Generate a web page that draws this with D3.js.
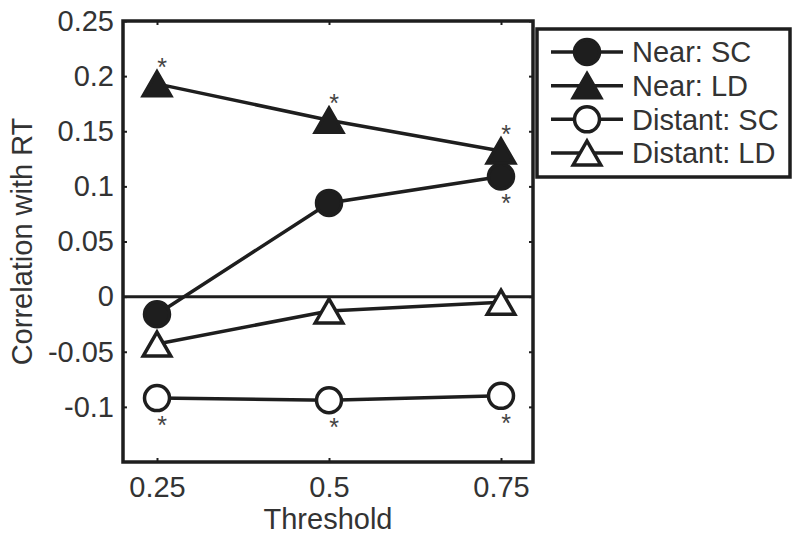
<!DOCTYPE html>
<html lang="en">
<head>
<meta charset="utf-8">
<title>Correlation with RT</title>
<script src="https://cdn.jsdelivr.net/npm/d3@7"></script>
<style>
  body { margin: 0; background: #fff; }
  text { font-family: "Liberation Sans", Arial, sans-serif; fill: #333; }
</style>
</head>
<body>
<script>
// values
var thresholds = [0.25, 0.5, 0.75];
var nearSC = [-0.016, 0.085, 0.109];
var nearLD = [0.193, 0.160, 0.132];
var distantSC = [-0.092, -0.094, -0.090];
var distantLD = [-0.043, -0.013, -0.005];
var yTicks = [-0.1, -0.05, 0, 0.05, 0.1, 0.15, 0.2, 0.25];
var xTicks = [0.25, 0.5, 0.75];
// significance stars (1 = star shown)
var starsNearSC = [0, 0, 1];
var starsNearLD = [1, 1, 1];
var starsDistantSC = [1, 1, 1];
var starsDistantLD = [0, 0, 0];

var series = [
  { name: "Near: SC", values: nearSC, shape: "circle", filled: true, stars: starsNearSC, side: 1 },
  { name: "Near: LD", values: nearLD, shape: "triangle", filled: true, stars: starsNearLD, side: -1 },
  { name: "Distant: SC", values: distantSC, shape: "circle", filled: false, stars: starsDistantSC, side: 1 },
  { name: "Distant: LD", values: distantLD, shape: "triangle", filled: false, stars: starsDistantLD, side: 1 }
];

var width = 800, height = 541;
var boxL = 123, boxR = 533, boxT = 21, boxB = 462;
var ink = "#1e1e1e";
var fs = 29;

var svg = d3.select("body").append("svg")
    .attr("width", width)
    .attr("height", height);

// ticks land at 157 / 329 / 501 in the picture
var x = d3.scaleLinear().domain([0.25, 0.75]).range([157, 501]);
var y = d3.scaleLinear().domain([-0.15, 0.25]).range([boxB, boxT]);

// triangle centred on its bounding box
var triangle = {
  draw: function(ctx, size) {
    var h = Math.sqrt(size), w = h * 1.15;
    ctx.moveTo(0, -h / 2);
    ctx.lineTo(w / 2, h / 2);
    ctx.lineTo(-w / 2, h / 2);
    ctx.closePath();
  }
};

function drawMarker(g, s, cx, cy) {
  if (s.shape === "circle") {
    g.append("circle")
      .attr("cx", cx).attr("cy", cy).attr("r", 12.5)
      .attr("fill", s.filled ? ink : "#fff")
      .attr("stroke", ink).attr("stroke-width", 3.5);
  } else {
    g.append("path")
      .attr("transform", "translate(" + cx + "," + cy + ")")
      .attr("d", d3.symbol().type(triangle).size(24 * 24)())
      .attr("fill", s.filled ? ink : "#fff")
      .attr("stroke", ink).attr("stroke-width", 3.5);
  }
}

// zero line
svg.append("line")
  .attr("x1", boxL).attr("x2", boxR)
  .attr("y1", y(0)).attr("y2", y(0))
  .attr("stroke", ink).attr("stroke-width", 3);

// axes with small inward ticks
var yAxis = d3.axisLeft(y).tickValues(yTicks).tickSizeInner(-4).tickSizeOuter(0).tickPadding(9)
  .tickFormat(function(d) { return String(+d.toFixed(2)); });
var gy = svg.append("g").attr("transform", "translate(" + boxL + ",0)").call(yAxis);
gy.select(".domain").remove();
gy.selectAll("line").attr("stroke", ink).attr("stroke-width", 2);
gy.selectAll("text").attr("font-size", fs).style("fill", "#333");

var gyr = svg.append("g").attr("transform", "translate(" + boxR + ",0)")
  .call(d3.axisRight(y).tickValues(yTicks).tickSizeInner(-4).tickSizeOuter(0).tickFormat(""));
gyr.select(".domain").remove();
gyr.selectAll("line").attr("stroke", ink).attr("stroke-width", 2);

var xAxis = d3.axisBottom(x).tickValues(xTicks).tickSizeInner(-4).tickSizeOuter(0).tickPadding(14)
  .tickFormat(function(d) { return String(d); });
var gx = svg.append("g").attr("transform", "translate(0," + boxB + ")").call(xAxis);
gx.select(".domain").remove();
gx.selectAll("line").attr("stroke", ink).attr("stroke-width", 2);
gx.selectAll("text").attr("font-size", fs).style("fill", "#333");

var gxt = svg.append("g").attr("transform", "translate(0," + boxT + ")")
  .call(d3.axisTop(x).tickValues(xTicks).tickSizeInner(-4).tickSizeOuter(0).tickFormat(""));
gxt.select(".domain").remove();
gxt.selectAll("line").attr("stroke", ink).attr("stroke-width", 2);

// box
svg.append("rect")
  .attr("x", boxL).attr("y", boxT)
  .attr("width", boxR - boxL).attr("height", boxB - boxT)
  .attr("fill", "none").attr("stroke", ink).attr("stroke-width", 3.5);

// axis labels
svg.append("text")
  .attr("x", 328).attr("y", 529)
  .attr("text-anchor", "middle").attr("font-size", fs)
  .text("Threshold");

svg.append("text")
  .attr("transform", "translate(32," + ((boxT + boxB) / 2) + ") rotate(-90)")
  .attr("text-anchor", "middle").attr("font-size", fs)
  .text("Correlation with RT");

// series
var line = d3.line()
  .x(function(d, i) { return x(thresholds[i]); })
  .y(function(d) { return y(d); });

series.forEach(function(s) {
  svg.append("path")
    .attr("d", line(s.values))
    .attr("fill", "none").attr("stroke", ink).attr("stroke-width", 3.5);
});

series.forEach(function(s) {
  var g = svg.append("g");
  s.values.forEach(function(v, i) {
    drawMarker(g, s, x(thresholds[i]), y(v));
    if (s.stars[i]) {
      g.append("text")
        .attr("x", x(thresholds[i]) + 5)
        .attr("y", y(v) + s.side * 22 + 14)
        .attr("text-anchor", "middle").attr("font-size", 25)
        .style("fill", "#444")
        .text("*");
    }
  });
});

// legend
var legend = svg.append("g");
legend.append("rect")
  .attr("x", 537).attr("y", 29).attr("width", 253).attr("height", 148)
  .attr("fill", "#fff").attr("stroke", ink).attr("stroke-width", 3.5);

var rowY = d3.scalePoint().domain(series.map(function(s) { return s.name; }))
  .range([52, 153]);

series.forEach(function(s) {
  var ry = rowY(s.name);
  legend.append("line")
    .attr("x1", 551).attr("x2", 623).attr("y1", ry).attr("y2", ry)
    .attr("stroke", ink).attr("stroke-width", 3.5);
  drawMarker(legend, s, 587, ry);
  legend.append("text")
    .attr("x", 632).attr("y", ry).attr("dy", "0.36em")
    .attr("font-size", fs)
    .text(s.name);
});
</script>
</body>
</html>
